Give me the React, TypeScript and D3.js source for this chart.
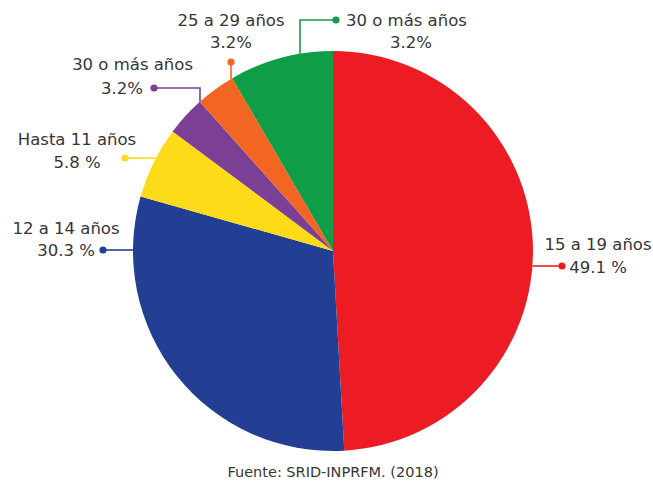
import React from "react";
import * as d3 from "d3";

// slices, clockwise from 12 o'clock
const categories = ["15 a 19 años", "12 a 14 años", "Hasta 11 años", "30 o más años", "25 a 29 años", "30 o más años"];
const values = [49.1, 30.3, 5.8, 3.2, 3.2, 8.4]; // slice sizes as drawn
const pctLabels = ["49.1 %", "30.3 %", "5.8 %", "3.2%", "3.2%", "3.2%"];
const colors = ["#ED1C24", "#233F94", "#FDDB19", "#7B3F96", "#F26522", "#0F9D48"];
const source = "Fuente: SRID-INPRFM. (2018)";

const W = 653, H = 483;
const cx = 333, cy = 251, R = 200;
const font = "'DejaVu Sans', sans-serif";
const txt = "#363636";

// y on circle for a given x (top or bottom half) and x for a given y
const edgeY = (x: number, top = true) => cy + (top ? -1 : 1) * Math.sqrt(R * R - (x - cx) ** 2);
const edgeX = (y: number, right = true) => cx + (right ? 1 : -1) * Math.sqrt(R * R - (y - cy) ** 2);

// leader + label placement per slice
const layout = [
  { pts: [[edgeX(266), 266], [562, 266]], dot: [562, 266], lines: [[598, 244, "middle"], [598, 267, "middle"]] },
  { pts: [[103, 250], [edgeX(250, false), 250]], dot: [103, 250], lines: [[66, 228, "middle"], [66, 250, "middle"]] },
  { pts: [[125, 158], [edgeX(158, false), 158]], dot: [125, 158], lines: [[77, 139, "middle"], [77, 162, "middle"]] },
  { pts: [[154, 88], [200, 88], [200, edgeY(200)]], dot: [154, 88], lines: [[193, 64, "end"], [143, 88, "end"]] },
  { pts: [[231, 62], [231, edgeY(231)]], dot: [231, 62], lines: [[231, 20, "middle"], [231, 42, "middle"]] },
  { pts: [[300, edgeY(300)], [300, 20], [336, 20]], dot: [336, 20], lines: [[346, 20, "start"], [411, 42, "middle"]] },
];

export default function App() {
  const pie = d3.pie<number>().sort(null).value((d) => d);
  const arcs = pie(values);
  const arc = d3.arc<d3.PieArcDatum<number>>().innerRadius(0).outerRadius(R);
  const line = d3.line();

  return (
    <svg width={W} height={H} style={{ position: "absolute", left: 0, top: 0, background: "#fff" }}>
      <g transform={`translate(${cx},${cy})`}>
        {arcs.map((a, i) => (
          <path key={i} d={arc(a) || ""} fill={colors[i]} />
        ))}
      </g>
      {layout.map((l, i) => (
        <g key={i}>
          <path d={line(l.pts as [number, number][]) || ""} fill="none" stroke={colors[i]} strokeWidth={1.6} />
          <circle cx={l.dot[0]} cy={l.dot[1]} r={3.6} fill={colors[i]} />
          {[categories[i], pctLabels[i]].map((t, j) => (
            <text
              key={j}
              x={l.lines[j][0] as number}
              y={l.lines[j][1] as number}
              dy="0.36em"
              textAnchor={l.lines[j][2] as string}
              fontFamily={font}
              fontSize={16.5}
              fill={txt}
            >
              {t}
            </text>
          ))}
        </g>
      ))}
      <text x={cx} y={472} dy="0.36em" textAnchor="middle" fontFamily={font} fontSize={14.5} fill={txt}>
        {source}
      </text>
    </svg>
  );
}
